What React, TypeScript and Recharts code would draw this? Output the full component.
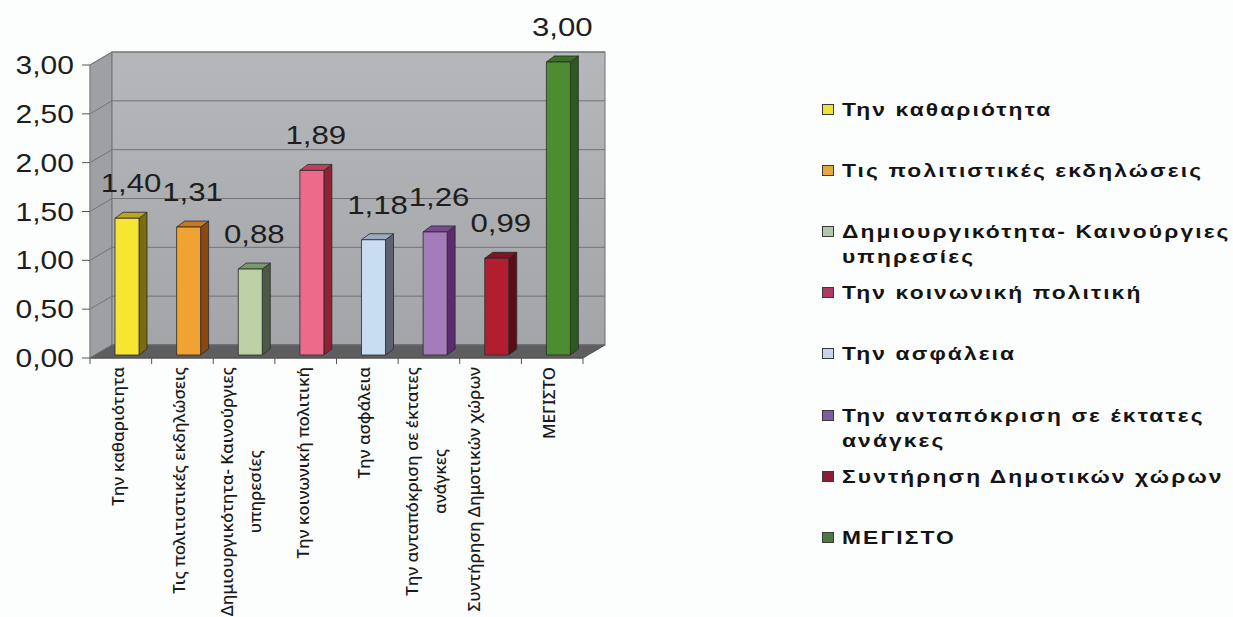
import React from "react";
import { Bar, BarChart, CartesianGrid, LabelList, Legend, XAxis, YAxis } from "recharts";

// Survey areas (line breaks mark where the label wraps)
const categories = [
  "Την καθαριότητα",
  "Τις πολιτιστικές εκδηλώσεις",
  "Δημιουργικότητα- Καινούργιες\nυπηρεσίες",
  "Την κοινωνική πολιτική",
  "Την ασφάλεια",
  "Την ανταπόκριση σε έκτατες\nανάγκες",
  "Συντήρηση Δημοτικών χώρων\n",
  "ΜΕΓΙΣΤΟ",
];
const scores = [1.4, 1.31, 0.88, 1.89, 1.18, 1.26, 0.99, 3.0];
const yTicks = [0, 0.5, 1, 1.5, 2, 2.5, 3];

const frontColors = ["#f6e632", "#f0a232", "#bcd2a6", "#ec6a8a", "#c8dcf2", "#a47cba", "#b21e30", "#4e8c32"];
const sideColors = ["#7d6b12", "#8c4712", "#4c5a44", "#8e2236", "#5c6272", "#5a2c6e", "#5c0c16", "#2c5a1e"];
const topColors = ["#b8a520", "#c8781e", "#7a9a6a", "#c04060", "#9aaac0", "#7a4a90", "#801422", "#3a7026"];
const legendColors = ["#eee13a", "#e6a83e", "#b6c4ae", "#b03a62", "#c6d6e6", "#7c5c9c", "#8a1e34", "#4a7a40"];

const data = categories.map((name, i) => ({ name, score: scores[i] }));

const W = 1233;
const H = 617;
const PLOT = { left: 90, right: 583, top: 65, bottom: 358 };
const DX = 22; // depth of the 3D box
const DY = -13;
const BAR_W = 24;
const BAR_SHIFT = 6;
const SIDE_X = 8;
const SIDE_Y = -6;

const numFont = "'Liberation Sans', Arial, sans-serif";
const catFont = "'Noto Sans', sans-serif";
const catSize = 17;
const catWeight = 500;

const fmt = (v: number) => Number(v).toFixed(2).replace(".", ",");

let ctx: CanvasRenderingContext2D | null = null;
function measure(text: string, font: string) {
  if (!ctx) ctx = document.createElement("canvas").getContext("2d");
  if (!ctx) return text.length * 8;
  ctx.font = font;
  return ctx.measureText(text).width;
}

// side wall, back wall and floor of the 3D plot box
function Walls() {
  const { left, right, top, bottom } = PLOT;
  return (
    <g>
      <defs>
        <linearGradient id="wallFill" x1="0" y1="0" x2="0" y2="1">
          <stop offset="0" stopColor="#b6b7ba" />
          <stop offset="1" stopColor="#a4a5a8" />
        </linearGradient>
      </defs>
      <polygon
        points={`${left},${top} ${left + DX},${top + DY} ${left + DX},${bottom + DY} ${left},${bottom}`}
        fill="#9fa0a3"
        stroke="#808080"
      />
      <rect x={left + DX} y={top + DY} width={right - left} height={bottom - top} fill="url(#wallFill)" stroke="#707070" />
      <polygon
        points={`${left},${bottom} ${right},${bottom} ${right + DX},${bottom + DY} ${left + DX},${bottom + DY}`}
        fill="#5e5e60"
        stroke="#505050"
      />
    </g>
  );
}

// grid line bent onto the side wall and back wall; the first one also lays the walls down
const gridLine = (props: any) => {
  const { x1, x2, y1, index } = props;
  return (
    <g key={`grid-${y1}`}>
      {index === 0 && <Walls />}
      <line x1={x1} y1={y1} x2={x1 + DX} y2={y1 + DY} stroke="#737477" />
      <line x1={x1 + DX} y1={y1 + DY} x2={x2 + DX} y2={y1 + DY} stroke="#737477" />
    </g>
  );
};

function Box3D(props: any) {
  const { x, y, width, height, index } = props;
  if (height == null || height <= 0) return null;
  const fx = x + BAR_SHIFT;
  const fy = y - 3;
  const r = fx + width;
  return (
    <g stroke="#2a2a2a" strokeWidth={0.8} strokeLinejoin="round">
      <polygon
        points={`${r},${fy} ${r + SIDE_X},${fy + SIDE_Y} ${r + SIDE_X},${fy + height + SIDE_Y} ${r},${fy + height}`}
        fill={sideColors[index]}
      />
      <polygon
        points={`${fx},${fy} ${fx + SIDE_X},${fy + SIDE_Y} ${r + SIDE_X},${fy + SIDE_Y} ${r},${fy}`}
        fill={topColors[index]}
      />
      <rect x={fx} y={fy} width={width} height={height} fill={frontColors[index]} />
    </g>
  );
}

function ValueLabel(props: any) {
  const vb = props.viewBox ?? props;
  const { x, y, width } = vb;
  const cx = x + BAR_SHIFT + (width + SIDE_X) / 2;
  return (
    <text
      transform={`translate(${cx},${y - 3 - 26}) scale(1.2,1)`}
      textAnchor="middle"
      fontSize={26}
      fontFamily={numFont}
      fill="#1e1e1e"
    >
      {fmt(props.value)}
    </text>
  );
}

function ValueTick(props: any) {
  const { x, y, payload } = props;
  return (
    <text
      transform={`translate(${x},${y}) scale(1.2,1)`}
      textAnchor="end"
      dy="0.36em"
      fontSize={25}
      fontFamily={numFont}
      fill="#1e1e1e"
    >
      {fmt(payload.value)}
    </text>
  );
}

function CategoryTick(props: any) {
  const { x, y, payload, index, visibleTicksCount } = props;
  const half = payload.offset || 30.8;
  const axisY = y - 8;
  const lines = String(payload.value).split("\n");
  const font = `${catWeight} ${catSize}px ${catFont}`;
  const maxLen = Math.max(...lines.map((l) => measure(l, font)));
  const cy = y + 1 + maxLen / 2;
  const gap = 28;
  return (
    <g>
      <line x1={x - half} y1={axisY} x2={x - half} y2={axisY + 6} stroke="#555" />
      {index === visibleTicksCount - 1 && (
        <line x1={x + half} y1={axisY} x2={x + half} y2={axisY + 6} stroke="#555" />
      )}
      {lines.map((line, i) => {
        const lx = x - 3 + (i - (lines.length - 1) / 2) * gap;
        return (
          <text
            key={i}
            transform={`translate(${lx},${cy}) rotate(-90)`}
            textAnchor="middle"
            dy="0.35em"
            fontSize={catSize}
            fontWeight={catWeight}
            fontFamily={catFont}
            fill="#1a1a1a"
          >
            {line}
          </text>
        );
      })}
    </g>
  );
}

function ScoreLegend() {
  return (
    <div style={{ position: "relative", width: 411, height: 480 }}>
      {categories.map((name, i) => {
        const lines = name.split("\n").filter((l) => l.length > 0);
        return (
          <div key={i} style={{ position: "absolute", left: 0, top: i * 61.1, display: "flex", alignItems: "flex-start" }}>
            <span
              style={{
                display: "inline-block",
                width: 10,
                height: 9,
                marginTop: 7,
                border: "1px solid #3a3a3a",
                background: legendColors[i],
                flex: "none",
              }}
            />
            <span
              style={{
                marginLeft: 8,
                fontFamily: numFont,
                fontWeight: "bold",
                fontSize: 19,
                lineHeight: "25px",
                letterSpacing: 1.75,
                color: "#141414",
                whiteSpace: "nowrap",
                transform: "scaleX(1.2)",
                transformOrigin: "left top",
              }}
            >
              {lines.map((l, j) => (
                <div key={j}>{l}</div>
              ))}
            </span>
          </div>
        );
      })}
    </div>
  );
}

export default function App() {
  return (
    <div style={{ position: "absolute", left: 0, top: 0, width: W, height: H, background: "#fcfdfd" }}>
      <BarChart
        width={W}
        height={H}
        data={data}
        margin={{ top: PLOT.top, right: W - PLOT.right, left: PLOT.left - 75, bottom: H - PLOT.bottom - 250 }}
      >
        <CartesianGrid vertical={false} horizontal={gridLine} />
        <XAxis
          dataKey="name"
          interval={0}
          height={250}
          tickSize={6}
          tickMargin={2}
          tickLine={false}
          axisLine={{ stroke: "#555" }}
          tick={<CategoryTick />}
        />
        <YAxis
          domain={[0, 3]}
          ticks={yTicks}
          width={75}
          tickSize={8}
          tickMargin={8}
          axisLine={{ stroke: "#888" }}
          tickLine={{ stroke: "#555" }}
          tick={<ValueTick />}
        />
        <Legend
          layout="vertical"
          align="center"
          verticalAlign="middle"
          wrapperStyle={{ left: 822, top: 97, width: 411, height: 480 }}
          content={() => <ScoreLegend />}
        />
        <Bar dataKey="score" barSize={BAR_W} shape={(p: any) => <Box3D {...p} />} isAnimationActive={false}>
          <LabelList dataKey="score" content={(p: any) => <ValueLabel {...p} />} />
        </Bar>
      </BarChart>
    </div>
  );
}
